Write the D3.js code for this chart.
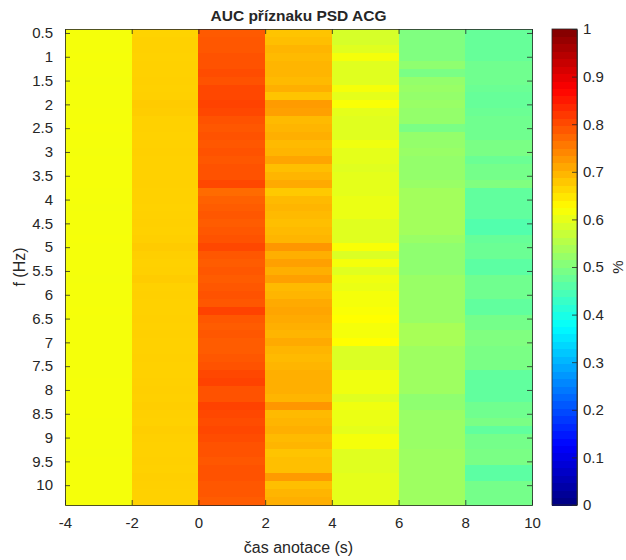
<!DOCTYPE html>
<html>
<head>
<meta charset="utf-8">
<script src="https://cdn.jsdelivr.net/npm/d3@7"></script>
<style>
  body { margin: 0; background: #fff; }
  text { font-family: "Liberation Sans", Arial, sans-serif; fill: #262626; }
</style>
</head>
<body>
<svg id="drawing_region"></svg>
<script>
// time bins (centres, s), each 2 s wide
const times = [-3, -1, 1, 3, 5, 7, 9];
// frequency bins (centres, Hz), 1/6 Hz wide
const freqs = d3.range(60).map(i => 0.5 + i / 6);

// AUC per frequency row, one array per time bin
const auc_m3 = [0.615,0.615,0.615,0.616,0.615,0.615,0.614,0.615,0.615,0.614,0.615,0.615,0.616,0.615,0.615,0.614,0.615,0.615,0.615,0.616,
                0.615,0.615,0.614,0.615,0.615,0.615,0.616,0.615,0.615,0.615,0.615,0.614,0.615,0.615,0.615,0.616,0.615,0.615,0.615,0.615,
                0.615,0.615,0.615,0.614,0.615,0.615,0.615,0.615,0.616,0.615,0.615,0.615,0.615,0.614,0.615,0.615,0.615,0.615,0.615,0.615];
const auc_m1 = [0.668,0.670,0.670,0.669,0.670,0.670,0.671,0.670,0.671,0.676,0.674,0.670,0.670,0.669,0.670,0.671,0.670,0.670,0.670,0.671,
                0.670,0.670,0.669,0.670,0.671,0.670,0.672,0.676,0.672,0.670,0.671,0.675,0.670,0.671,0.670,0.670,0.671,0.670,0.671,0.670,
                0.670,0.671,0.670,0.670,0.671,0.672,0.671,0.673,0.671,0.670,0.673,0.671,0.670,0.670,0.671,0.670,0.672,0.671,0.670,0.670];
const auc_1 = [0.787,0.790,0.790,0.795,0.795,0.800,0.795,0.805,0.805,0.810,0.805,0.795,0.790,0.795,0.790,0.795,0.790,0.795,0.795,0.805,
               0.770,0.780,0.785,0.790,0.785,0.790,0.795,0.805,0.790,0.785,0.790,0.785,0.790,0.795,0.790,0.810,0.790,0.785,0.790,0.785,
               0.785,0.790,0.795,0.805,0.810,0.795,0.795,0.810,0.805,0.800,0.805,0.800,0.795,0.795,0.790,0.795,0.795,0.790,0.790,0.785];
const auc_3 = [0.683,0.688,0.698,0.693,0.698,0.698,0.693,0.703,0.683,0.723,0.718,0.693,0.698,0.703,0.693,0.698,0.713,0.688,0.698,0.708,
               0.678,0.693,0.698,0.693,0.688,0.693,0.698,0.728,0.703,0.718,0.703,0.718,0.693,0.698,0.708,0.713,0.708,0.703,0.698,0.708,
               0.698,0.693,0.698,0.703,0.703,0.703,0.698,0.728,0.693,0.698,0.703,0.693,0.698,0.683,0.688,0.688,0.723,0.688,0.698,0.703];
const auc_5 = [0.585,0.585,0.595,0.615,0.595,0.595,0.595,0.615,0.600,0.620,0.600,0.595,0.595,0.595,0.610,0.600,0.600,0.595,0.600,0.600,
               0.600,0.605,0.605,0.605,0.595,0.595,0.595,0.620,0.590,0.615,0.595,0.610,0.605,0.615,0.615,0.620,0.625,0.615,0.615,0.625,
               0.590,0.590,0.590,0.610,0.610,0.610,0.595,0.610,0.605,0.605,0.600,0.615,0.615,0.595,0.595,0.595,0.600,0.600,0.600,0.600];
const auc_7 = [0.500,0.500,0.500,0.500,0.515,0.495,0.520,0.525,0.520,0.525,0.520,0.520,0.495,0.520,0.520,0.525,0.520,0.520,0.520,0.525,
               0.535,0.535,0.535,0.535,0.535,0.535,0.525,0.515,0.515,0.515,0.515,0.525,0.525,0.525,0.525,0.525,0.525,0.540,0.540,0.540,
               0.530,0.530,0.530,0.530,0.530,0.530,0.515,0.515,0.525,0.525,0.525,0.525,0.525,0.530,0.530,0.530,0.530,0.530,0.530,0.530];
const auc_9 = [0.475,0.475,0.475,0.475,0.485,0.485,0.485,0.480,0.475,0.475,0.480,0.485,0.485,0.485,0.495,0.495,0.480,0.490,0.490,0.500,
               0.470,0.470,0.470,0.470,0.455,0.455,0.475,0.480,0.480,0.465,0.465,0.485,0.485,0.485,0.470,0.470,0.490,0.490,0.500,0.500,
               0.495,0.495,0.495,0.470,0.470,0.470,0.470,0.485,0.485,0.495,0.470,0.490,0.490,0.495,0.495,0.465,0.465,0.490,0.490,0.490];

const columns = [auc_m3, auc_m1, auc_1, auc_3, auc_5, auc_7, auc_9];

const xTicks = [-4, -2, 0, 2, 4, 6, 8, 10];
const yTicks = [0.5, 1, 1.5, 2, 2.5, 3, 3.5, 4, 4.5, 5, 5.5, 6, 6.5, 7, 7.5, 8, 8.5, 9, 9.5, 10];
const cTicks = [0, 0.1, 0.2, 0.3, 0.4, 0.5, 0.6, 0.7, 0.8, 0.9, 1];

// MATLAB-like jet
function jet(v) {
    const c = t => Math.max(0, Math.min(1, t));
    const r = c(1.5 - Math.abs(4 * v - 3));
    const g = c(1.5 - Math.abs(4 * v - 2));
    const b = c(1.5 - Math.abs(4 * v - 1));
    return d3.rgb(r * 255, g * 255, b * 255).toString();
}

const width = 626, height = 560;
const margin = { top: 29, right: 94, bottom: 55, left: 65 };

const svg = d3.select('#drawing_region')
    .attr('width', width)
    .attr('height', height);

const xscale = d3.scaleLinear().domain([-4, 10]).range([margin.left, width - margin.right]);
const yscale = d3.scaleLinear().domain([0.5 - 1 / 12, 10 + 5 / 12]).range([margin.top, height - margin.bottom]);

const cells = [];
columns.forEach((col, i) => {
    col.forEach((v, j) => cells.push({ t: times[i], f: freqs[j], v: v }));
});

svg.append('g')
    .selectAll('rect')
    .data(cells)
    .join('rect')
    .attr('x', d => xscale(d.t - 1))
    .attr('y', d => yscale(d.f - 1 / 12))
    .attr('width', d => xscale(d.t + 1) - xscale(d.t - 1) + 0.5)
    .attr('height', d => yscale(d.f + 1 / 12) - yscale(d.f - 1 / 12) + 0.5)
    .attr('fill', d => jet(d.v))
    .attr('shape-rendering', 'crispEdges');

// axes, MATLAB style: ticks inside, box on
const axisColor = '#262626';
const x0 = xscale(-4), x1 = xscale(10), y0 = yscale.range()[0], y1 = yscale.range()[1];
const fmt = d => d3.format('~g')(d).replace('−', '-');

const xaxis = d3.axisBottom(xscale).tickValues(xTicks).tickSizeInner(-5).tickSizeOuter(0).tickPadding(12).tickFormat(fmt);
const yaxis = d3.axisLeft(yscale).tickValues(yTicks).tickSizeInner(-5).tickSizeOuter(0).tickPadding(12).tickFormat(fmt);
const xaxisTop = d3.axisTop(xscale).tickValues(xTicks).tickSizeInner(-5).tickSizeOuter(0).tickFormat('');
const yaxisRight = d3.axisRight(yscale).tickValues(yTicks).tickSizeInner(-5).tickSizeOuter(0).tickFormat('');

function styleAxis(g) {
    g.selectAll('path, line').attr('stroke', axisColor).attr('stroke-width', 0.8);
    g.selectAll('text').attr('font-size', 15).attr('fill', axisColor)
        .attr('font-family', '"Liberation Sans", Arial, sans-serif');
}

svg.append('g').attr('transform', `translate(0, ${y1})`).call(xaxis).call(styleAxis);
svg.append('g').attr('transform', `translate(${x0}, 0)`).call(yaxis).call(styleAxis);
svg.append('g').attr('transform', `translate(0, ${y0})`).call(xaxisTop).call(styleAxis);
svg.append('g').attr('transform', `translate(${x1}, 0)`).call(yaxisRight).call(styleAxis);

svg.append('text')
    .attr('x', (x0 + x1) / 2).attr('y', 21)
    .attr('text-anchor', 'middle')
    .attr('font-size', 15.5).attr('font-weight', 'bold')
    .attr('fill', '#000')
    .text('AUC příznaku PSD ACG');

svg.append('text')
    .attr('x', (x0 + x1) / 2).attr('y', 553)
    .attr('text-anchor', 'middle')
    .attr('font-size', 16)
    .text('čas anotace (s)');

svg.append('text')
    .attr('transform', `translate(25, ${(y0 + y1) / 2}) rotate(-90)`)
    .attr('text-anchor', 'middle')
    .attr('font-size', 16)
    .text('f (Hz)');

// colorbar
const cb = { x: 552, w: 25 };
const cscale = d3.scaleLinear().domain([0, 1]).range([y1, y0]);
const nColors = 64;
svg.append('g')
    .selectAll('rect')
    .data(d3.range(nColors))
    .join('rect')
    .attr('x', cb.x)
    .attr('y', i => cscale((i + 1) / nColors))
    .attr('width', cb.w)
    .attr('height', i => cscale(i / nColors) - cscale((i + 1) / nColors) + 0.5)
    .attr('fill', i => jet((i + 0.5) / nColors))
    .attr('shape-rendering', 'crispEdges');

const caxis = d3.axisRight(cscale).tickValues(cTicks).tickSizeInner(-5).tickSizeOuter(0).tickPadding(6).tickFormat(fmt);
svg.append('g').attr('transform', `translate(${cb.x + cb.w}, 0)`).call(caxis).call(styleAxis);
svg.append('rect')
    .attr('x', cb.x).attr('y', y0).attr('width', cb.w).attr('height', y1 - y0)
    .attr('fill', 'none').attr('stroke', axisColor).attr('stroke-width', 0.8);

svg.append('text')
    .attr('transform', `translate(623, ${(y0 + y1) / 2}) rotate(-90)`)
    .attr('text-anchor', 'middle')
    .attr('font-size', 15)
    .text('%');
</script>
</body>
</html>
